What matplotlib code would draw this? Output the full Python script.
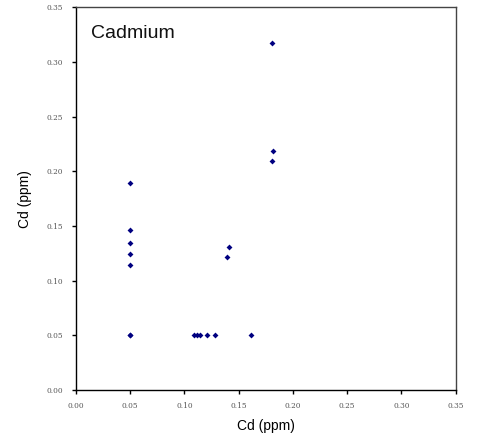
import matplotlib
matplotlib.use("Agg")
import matplotlib.pyplot as plt
import numpy as np

# Cd measurements (ppm), two methods
cd_x = [0.05, 0.05, 0.05, 0.05, 0.05, 0.05, 0.05,
        0.109, 0.112, 0.114, 0.121, 0.128, 0.161,
        0.139, 0.141, 0.181, 0.182, 0.181]
cd_y = [0.189, 0.146, 0.134, 0.124, 0.114, 0.05, 0.05,
        0.05, 0.05, 0.05, 0.05, 0.05, 0.05,
        0.122, 0.131, 0.317, 0.219, 0.209]
ticks = [0.00, 0.05, 0.10, 0.15, 0.20, 0.25, 0.30, 0.35]

fig = plt.figure(figsize=(4.81, 4.46), dpi=100)
ax = fig.add_axes([0.158, 0.1256, 0.789, 0.858])

ax.scatter(cd_x, cd_y, marker="D", s=9, color="#000080", linewidths=0, zorder=3)

ax.set_xlim(0, 0.35)
ax.set_ylim(0, 0.35)
ax.set_xticks(ticks)
ax.set_yticks(ticks)
ax.set_xticklabels(["%.2f" % t for t in ticks], family="DejaVu Serif", fontsize=5.3, color="#555555")
ax.set_yticklabels(["%.2f" % t for t in ticks], family="DejaVu Serif", fontsize=5.3, color="#555555")
ax.tick_params(direction="out", length=3, width=1, pad=6, top=False, right=False)

for s in ax.spines.values():
    s.set_color("#444444")
    s.set_linewidth(1)
ax.spines["left"].set_color("black")
ax.spines["bottom"].set_color("black")

ax.set_xlabel("Cd (ppm)", family="Liberation Sans", fontsize=10, labelpad=6)
ax.set_ylabel("Cd (ppm)", family="Liberation Sans", fontsize=10, labelpad=11)
ax.text(0.04, 0.955, "Cadmium", transform=ax.transAxes, family="Liberation Sans",
        fontsize=14, va="top", ha="left", color="#111111")

fig.savefig("out.png", dpi=100)
